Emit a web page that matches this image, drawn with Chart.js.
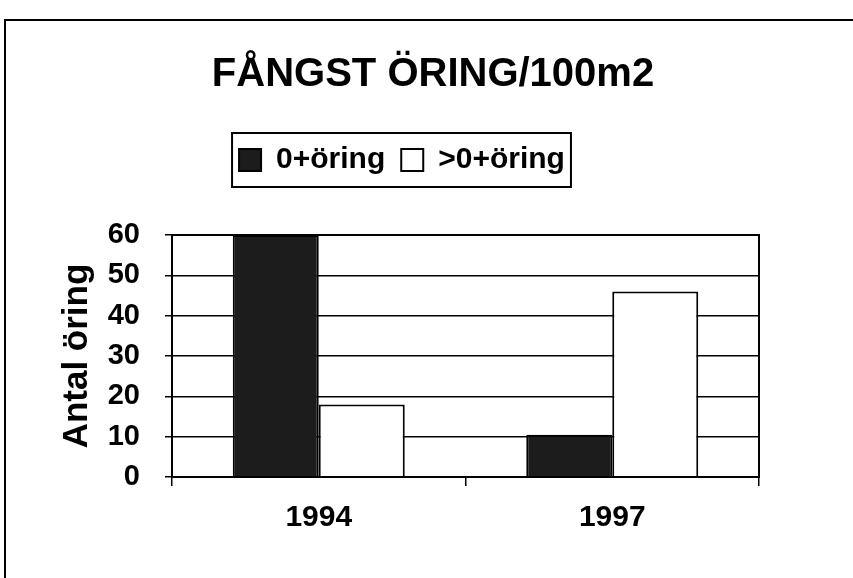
<!DOCTYPE html>
<html lang="sv">
<head>
<meta charset="UTF-8">
<title>Fångst öring/100m2</title>
<style>
  body { margin: 0; background: #fff; }
  .wrap { position: relative; width: 853px; height: 578px; overflow: hidden; }
  /* scanned page frame */
  .frame {
    position: absolute; left: 4px; top: 19px; width: 900px; height: 600px;
    border-left: 2px solid #000; border-top: 2px solid #000; pointer-events: none;
  }
</style>
</head>
<body>
<div class="wrap">
  <canvas id="chart" width="853" height="578"></canvas>
  <div class="frame"></div>
</div>
<script src="https://cdn.jsdelivr.net/npm/chart.js"></script>
<script>
const years = ["1994", "1997"];
const youngTrout = [60, 10.5];
const olderTrout = [18, 46];
const yMin = 0;
const yMax = 60;
const yStep = 10;

Chart.defaults.font.family = '"Liberation Sans", Arial, sans-serif';
Chart.defaults.font.weight = "bold";
Chart.defaults.color = "#000";

// moves title/legend to where the original had them and draws the boxes
const framePlugin = {
  id: "framePlugin",
  afterLayout(chart) {
    chart.titleBlock.left += 31;
    chart.titleBlock.right += 31;
    chart.legend.top -= 50;
    chart.legend.bottom -= 50;
  },
  afterDraw(chart) {
    const { ctx, chartArea: a, legend } = chart;
    ctx.save();
    ctx.strokeStyle = "#000";
    ctx.lineWidth = 2;
    ctx.strokeRect(a.left, a.top, a.right - a.left, a.bottom - a.top);
    const w = legend.lineWidths[0] - legend.options.labels.padding;
    const cx = (legend.left + legend.right) / 2;
    ctx.strokeRect(cx - w / 2 - 7, legend.top + 4, w + 13, 54);
    ctx.restore();
  }
};

new Chart(document.getElementById("chart"), {
  type: "bar",
  data: {
    labels: years,
    datasets: [
      {
        label: "0+öring",
        data: youngTrout,
        backgroundColor: "#1c1c1c",
        borderColor: "#000",
        borderWidth: 2,
      },
      {
        label: ">0+öring",
        data: olderTrout,
        backgroundColor: "#fff",
        borderColor: "#000",
        borderWidth: 2,
      },
    ],
  },
  options: {
    responsive: false,
    animation: false,
    layout: { padding: { left: 45, right: 94, top: 0, bottom: 0 } },
    datasets: {
      bar: { categoryPercentage: 0.586, barPercentage: 1 },
    },
    plugins: {
      tooltip: { enabled: false },
      title: {
        display: true,
        text: "FÅNGST ÖRING/100m2",
        font: { size: 40, weight: "bold" },
        padding: { top: 51, bottom: 80 },
      },
      legend: {
        display: true,
        labels: {
          font: { size: 30, weight: "bold" },
          boxWidth: 22,
          boxHeight: 22,
          padding: 16,
        },
      },
    },
    scales: {
      x: {
        afterFit(scale) { scale.height = 101; },
        grid: {
          offset: true,
          drawOnChartArea: false,
          color: "#000",
          lineWidth: 1.5,
          tickLength: 9,
        },
        border: { color: "#000", width: 2 },
        ticks: { font: { size: 30, weight: "bold" }, padding: 14 },
      },
      y: {
        min: yMin,
        max: yMax,
        afterFit(scale) { scale.width = 127; },
        ticks: { stepSize: yStep, font: { size: 29, weight: "bold" }, padding: 25 },
        grid: { color: "#000", lineWidth: 1.5, tickLength: 7 },
        border: { color: "#000", width: 2 },
        title: {
          display: true,
          text: "Antal öring",
          font: { size: 35, weight: "bold" },
          padding: { top: 11, bottom: 0 },
        },
      },
    },
  },
  plugins: [framePlugin],
});
</script>
</body>
</html>
